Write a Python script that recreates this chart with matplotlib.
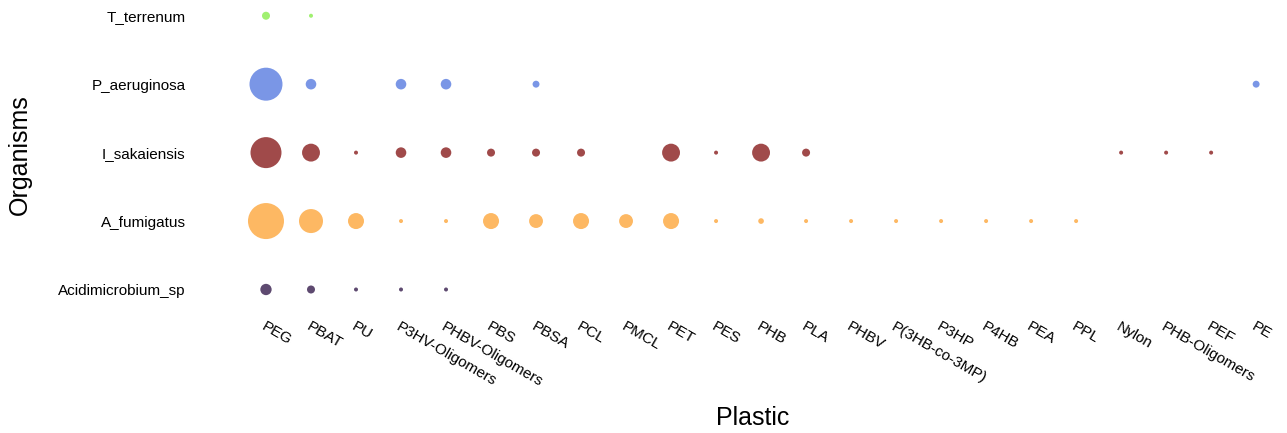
import numpy as np
import matplotlib
matplotlib.use("Agg")
import matplotlib.pyplot as plt

plt.rcParams['font.family'] = ['Liberation Sans', 'DejaVu Sans']

# categories
plastics = ['PEG', 'PBAT', 'PU', 'P3HV-Oligomers', 'PHBV-Oligomers', 'PBS', 'PBSA',
            'PCL', 'PMCL', 'PET', 'PES', 'PHB', 'PLA', 'PHBV', 'P(3HB-co-3MP)',
            'P3HP', 'P4HB', 'PEA', 'PPL', 'Nylon', 'PHB-Oligomers', 'PEF', 'PE']
organisms = ['Acidimicrobium_sp', 'A_fumigatus', 'I_sakaiensis', 'P_aeruginosa', 'T_terrenum']

# counts per plastic (0 = no point), same order as plastics
acidimicrobium_sp = [8, 4, 1, 1, 1, 0, 0, 0, 0, 0, 0, 0, 0, 0, 0, 0, 0, 0, 0, 0, 0, 0, 0]
a_fumigatus = [81, 36, 16, 1, 1, 16, 12, 16, 12, 16, 1, 2, 1, 1, 1, 1, 1, 1, 1, 0, 0, 0, 0]
i_sakaiensis = [60, 20, 1, 7, 7, 4, 4, 4, 0, 20, 1, 20, 4, 0, 0, 0, 0, 0, 0, 1, 1, 1, 0]
p_aeruginosa = [68, 7, 0, 7, 7, 0, 3, 0, 0, 0, 0, 0, 0, 0, 0, 0, 0, 0, 0, 0, 0, 0, 3]
t_terrenum = [4, 1, 0, 0, 0, 0, 0, 0, 0, 0, 0, 0, 0, 0, 0, 0, 0, 0, 0, 0, 0, 0, 0]

values = [acidimicrobium_sp, a_fumigatus, i_sakaiensis, p_aeruginosa, t_terrenum]
colors = ['#5e4a70', '#fdb863', '#a04a4a', '#7a96e6', '#a0f070']

fig = plt.figure(figsize=(12.87, 4.33), dpi=100)
ax = fig.add_axes([0.1787, 0.284, 0.812, 0.716])

x = np.arange(len(plastics))
for i, (vals, c) in enumerate(zip(values, colors)):
    vals = np.array(vals, dtype=float)
    mask = vals > 0
    ax.scatter(x[mask], np.full(mask.sum(), i), s=vals[mask] * 8.3, color=c,
               edgecolors='none', zorder=3)

ax.set_xlim(-0.8, 22.42)
ax.set_ylim(-0.3, 4.23)
ax.set_xticks(x)
ax.set_xticklabels(plastics, rotation=-30, ha='left', va='top', rotation_mode='anchor',
                   fontsize=11)
ax.set_yticks(range(len(organisms)))
ax.set_yticklabels(organisms, fontsize=11)
ax.tick_params(axis='both', length=0)
ax.tick_params(axis='y', pad=32)
ax.tick_params(axis='x', pad=7)
for s in ax.spines.values():
    s.set_visible(False)

ax.set_xlabel('Plastic', fontsize=18, labelpad=12)
ax.set_ylabel('Organisms', fontsize=18, labelpad=19)

fig.savefig('out.png', dpi=100)
